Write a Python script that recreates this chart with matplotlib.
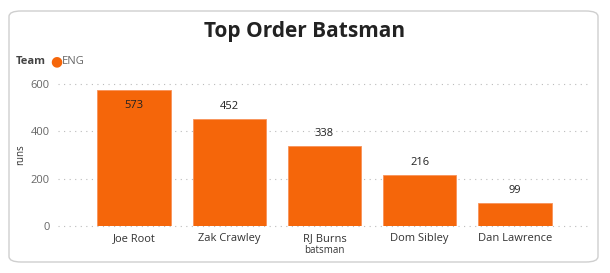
import matplotlib.pyplot as plt
from matplotlib.patches import FancyBboxPatch

batsmen = ["Joe Root", "Zak Crawley", "RJ Burns", "Dom Sibley", "Dan Lawrence"]
runs = [573, 452, 338, 216, 99]
y_ticks = [0, 200, 400, 600]

orange = "#F5660A"
plt.rcParams["font.family"] = ["Open Sans", "DejaVu Sans"]

fig = plt.figure(figsize=(6.1, 2.73), dpi=100)
fig.patch.set_facecolor("white")

# card border
card = FancyBboxPatch((9 / 610, 11 / 273), 589 / 610, 251 / 273,
                      boxstyle="round,pad=0,rounding_size=0.02",
                      transform=fig.transFigure, facecolor="none",
                      edgecolor="#CFCFCF", linewidth=1, zorder=-1)
fig.patches.append(card)

ax = fig.add_axes([58 / 610, 47 / 273, 533 / 610, 142 / 273])
ax.set_facecolor("none")
x = range(len(batsmen))
ax.bar(x, runs, width=0.77, color=orange, edgecolor="#F8925A", linewidth=0.6, zorder=3)

for i, v in enumerate(runs):
    if v > 500:
        ax.annotate(str(v), (i, v), xytext=(0, -11), textcoords="offset points",
                    ha="center", va="center", fontsize=8, color="#222222", zorder=4)
    else:
        ax.annotate(str(v), (i, v), xytext=(0, 9), textcoords="offset points",
                    ha="center", va="center", fontsize=8, color="#222222", zorder=4)

ax.set_xlim(-0.8, 4.8)
ax.set_ylim(0, 600)
ax.set_yticks(y_ticks)
ax.set_xticks(list(x))
ax.set_xticklabels(batsmen, fontsize=8, color="#333333")
ax.tick_params(axis="y", labelsize=8, labelcolor="#666666", length=0, pad=6)
ax.tick_params(axis="x", length=0, pad=5)
ax.grid(axis="y", linestyle=(0, (1, 4)), color="#BBBBBB", linewidth=0.8, zorder=0)
for gl in ax.get_ygridlines():
    gl.set_clip_on(False)
for s in ax.spines.values():
    s.set_visible(False)
ax.set_xlabel("batsman", fontsize=7, color="#333333", labelpad=1)
ax.set_ylabel("runs", fontsize=7, color="#333333")
ax.yaxis.set_label_coords(-0.06, 0.5)

fig.text(0.5, 1 - 31 / 273, "Top Order Batsman", ha="center", va="center",
         fontsize=15, fontweight="bold", color="#222222")

fig.text(16 / 610, 1 - 62 / 273, "Team", ha="left", va="center", fontsize=8,
         fontweight="bold", color="#444444")
fig.text(50 / 610, 1 - 62 / 273, "\u25CF", ha="left", va="center", fontsize=10,
         color=orange)
fig.text(62 / 610, 1 - 62 / 273, "ENG", ha="left", va="center", fontsize=8,
         color="#666666")

fig.savefig("out.png", dpi=100, facecolor="white")
